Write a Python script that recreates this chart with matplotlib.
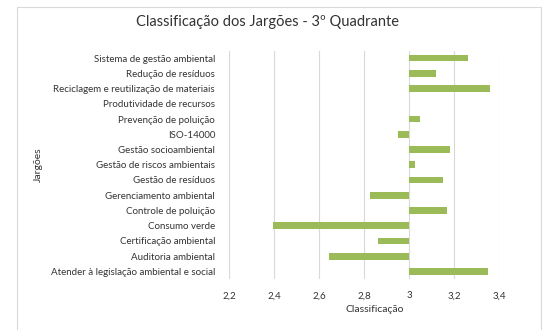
import matplotlib.pyplot as plt
from matplotlib.patches import Rectangle

plt.rcParams['font.family'] = ['Lato', 'DejaVu Sans']

# categories listed top to bottom as in the chart
jargoes = [
    'Sistema de gestão ambiental',
    'Redução de resíduos',
    'Reciclagem e reutilização de materiais',
    'Produtividade de recursos',
    'Prevenção de poluição',
    'ISO-14000',
    'Gestão socioambiental',
    'Gestão de riscos ambientais',
    'Gestão de resíduos',
    'Gerenciamento ambiental',
    'Controle de poluição',
    'Consumo verde',
    'Certificação ambiental',
    'Auditoria ambiental',
    'Atender à legislação ambiental e social',
]
classificacao = [3.26, 3.12, 3.36, 3.00, 3.05, 2.95, 3.18, 3.025, 3.15,
                 2.825, 3.17, 2.395, 2.86, 2.645, 3.35]
base = 3.0
xticks = [2.2, 2.4, 2.6, 2.8, 3.0, 3.2, 3.4]
xticklabels = ['2,2', '2,4', '2,6', '2,8', '3', '3,2', '3,4']

W, H = 543, 330
fig = plt.figure(figsize=(W / 100, H / 100), dpi=100)
txt = '#333333'

# chart border
fig.patches.append(Rectangle((17 / W, -0.01), (541 - 17) / W, 1 - 7 / H + 0.01,
                             transform=fig.transFigure, fill=False,
                             edgecolor='#d9d9d9', lw=0.8))

ax = fig.add_axes([229 / W, 1 - 279 / H, (499.3 - 229) / W, (279 - 50.5) / H])
y = list(range(len(jargoes)))
ax.barh(y, [v - base for v in classificacao], left=base, height=0.44,
        color='#9bbb59', zorder=3)
ax.set_ylim(len(jargoes) - 0.5, -0.5)
ax.set_xlim(2.2, 3.4)
ax.set_xticks(xticks)
ax.set_xticklabels(xticklabels)
ax.set_yticks(y)
ax.set_yticklabels(jargoes)
ax.tick_params(length=0, labelsize=7, colors=txt)
ax.tick_params(axis='y', pad=10)
ax.tick_params(axis='x', pad=9)
ax.grid(axis='x', color='#d9d9d9', lw=0.8, zorder=0)
for s in ax.spines.values():
    s.set_visible(False)

fig.text(268 / W, 1 - 22 / H, 'Classificação dos Jargões - 3º Quadrante',
         ha='center', va='center', fontsize=10.5, color=txt)
fig.text(375 / W, 1 - 309 / H, 'Classificação', ha='center', va='center',
         fontsize=7.5, color=txt)
fig.text(38 / W, 1 - 165 / H, 'Jargões', ha='center', va='center',
         rotation=90, fontsize=7.5, color=txt)

fig.savefig('out.png', dpi=100)
